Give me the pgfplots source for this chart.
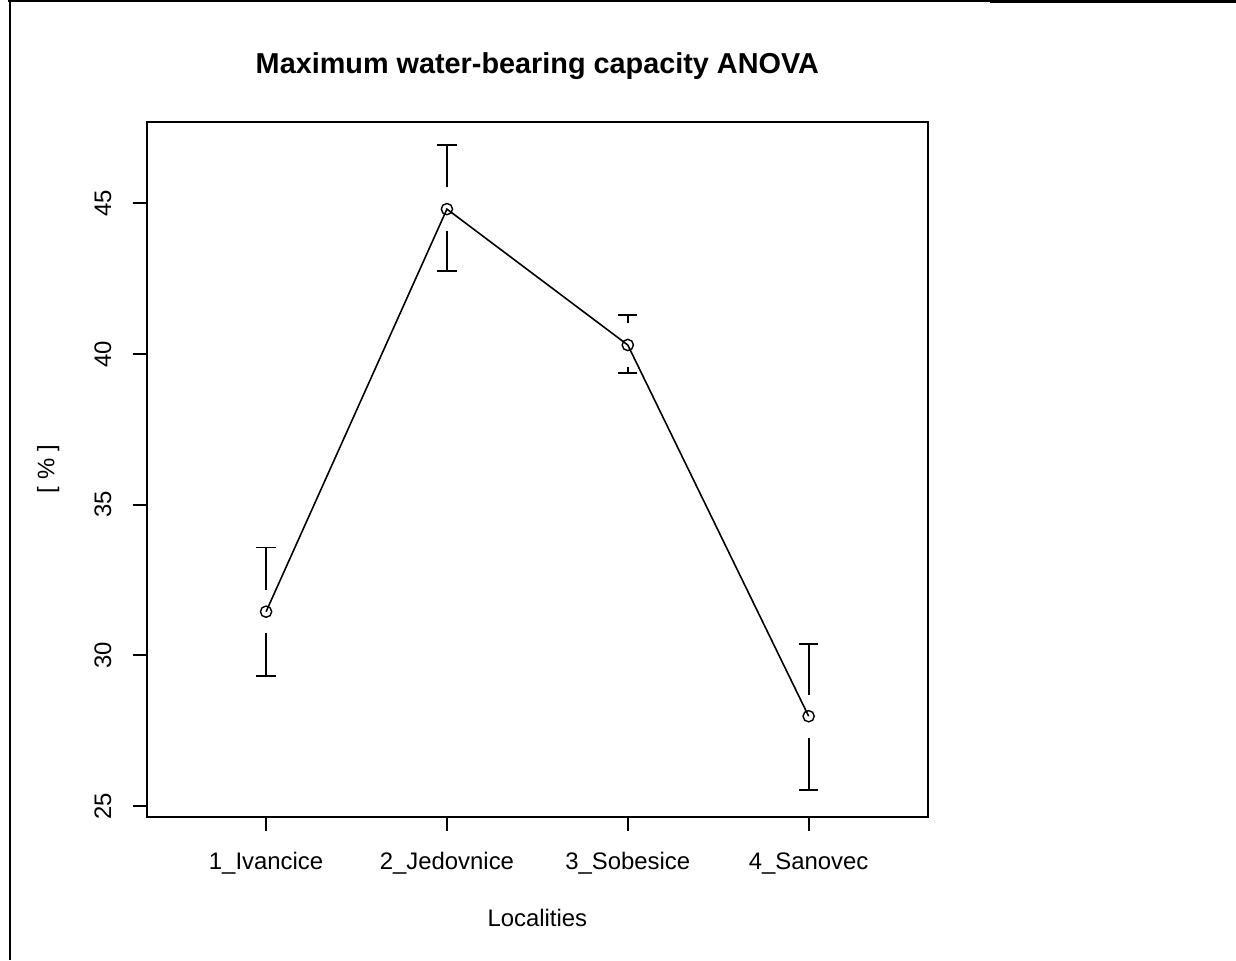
\documentclass[border=0pt]{standalone}
\usepackage{fontspec}
\setmainfont{Liberation Sans}
\usepackage{pgfplots}
\usepackage{pgfplotstable}
\pgfplotsset{compat=1.18}

% means and the ends of the error bars
\pgfplotstableread{
x mean upper lower
1 31.45 33.58 29.32
2 44.81 46.93 42.75
3 40.30 41.30 39.36
4 27.98 30.37 25.52
}\anova

\def\gap{0.717}

\begin{document}
\begin{tikzpicture}
\useasboundingbox (0,0) rectangle (12.36cm,9.6cm);
% page frame
\draw[line width=0.17mm] (0.10cm,0) -- (0.10cm,9.6cm);
\draw[line width=0.15mm] (0.08cm,9.592cm) -- (9.9cm,9.592cm);
\draw[line width=0.3mm] (9.9cm,9.585cm) -- (12.36cm,9.585cm);
\begin{axis}[
    at={(1.467cm,1.433cm)}, anchor=south west,
    width=7.813cm, height=6.95cm, scale only axis,
    xmin=0.34, xmax=4.66,
    ymin=24.645, ymax=47.71,
    axis line style={line width=0.55pt},
    xtick={1,2,3,4},
    xticklabels={1\_Ivancice, 2\_Jedovnice, 3\_Sobesice, 4\_Sanovec},
    ytick={25,30,35,40,45},
    xtick pos=bottom, ytick pos=left,
    tick align=outside,
    major tick length=0.14cm,
    tick style={black, line width=0.5pt},
    /pgf/number format/assume math mode=true,
    tick label style={font=\fontsize{6.8}{8}\selectfont},
    xticklabel style={text height=0.75em, text depth=0.25em},
    yticklabel style={rotate=90, anchor=south},
    xticklabel shift=0cm,
    yticklabel shift=0.09cm,
    title={Maximum water-bearing capacity ANOVA},
    title style={font=\fontsize{8.2}{10}\selectfont\bfseries,
        at={(axis description cs:0.5,1.050)}, anchor=center},
    xlabel={Localities},
    xlabel style={font=\fontsize{6.8}{8}\selectfont,
        at={(axis description cs:0.5,-0.1457)}, anchor=center},
    ylabel={[ \% ]},
    ylabel style={font=\fontsize{6.8}{8}\selectfont,
        at={(axis description cs:-0.126,0.5)}, anchor=center, rotate=0},
    clip=false,
]
% means joined by a line
\addplot[black, line width=0.45pt, mark=o,
    mark options={line width=0.4pt, mark size=1.6pt}]
    table[x=x, y=mean] {\anova};
% upper part of the error bars, starting a little above the mean
\addplot[draw=none, mark=none, forget plot,
    error bars/.cd, y dir=plus, y explicit,
    error bar style={draw=black, line width=0.55pt},
    error mark options={draw=black, rotate=90, line width=0.55pt, mark size=2.75pt}]
    table[x=x, y expr=\thisrow{mean}+\gap,
          y error plus expr=\thisrow{upper}-\thisrow{mean}-\gap] {\anova};
% lower part of the error bars
\addplot[draw=none, mark=none, forget plot,
    error bars/.cd, y dir=minus, y explicit,
    error bar style={draw=black, line width=0.55pt},
    error mark options={draw=black, rotate=90, line width=0.55pt, mark size=2.75pt}]
    table[x=x, y expr=\thisrow{mean}-\gap,
          y error minus expr=\thisrow{mean}-\gap-\thisrow{lower}] {\anova};
\end{axis}
\end{tikzpicture}
\end{document}
